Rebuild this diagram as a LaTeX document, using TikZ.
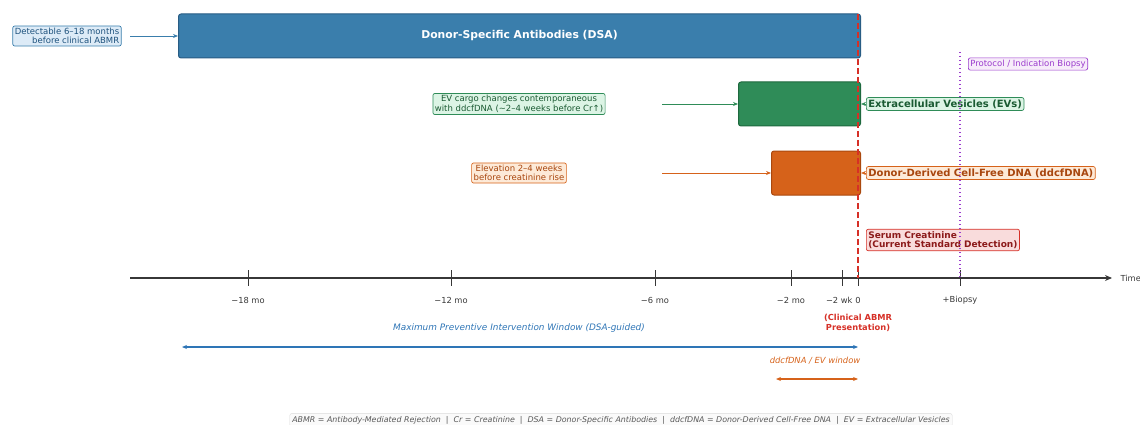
\documentclass[tikz,border=0pt]{standalone}
\usepackage{fontspec}
\setmainfont{DejaVu Sans}
\usetikzlibrary{arrows.meta, positioning, calc}
\definecolor{DsaBlue}{RGB}{58,126,172}
\definecolor{DsaEdge}{RGB}{40,92,132}
\definecolor{DsaText}{RGB}{30,82,125}
\definecolor{DsaFill}{RGB}{221,235,247}
\definecolor{EvGreen}{RGB}{47,140,88}
\definecolor{EvEdge}{RGB}{30,105,62}
\definecolor{EvText}{RGB}{26,90,50}
\definecolor{EvFill}{RGB}{220,244,229}
\definecolor{DdOrange}{RGB}{214,98,26}
\definecolor{DdEdge}{RGB}{170,72,14}
\definecolor{DdText}{RGB}{168,70,14}
\definecolor{DdFill}{RGB}{253,234,216}
\definecolor{CrRed}{RGB}{214,48,39}
\definecolor{CrText}{RGB}{140,26,26}
\definecolor{CrFill}{RGB}{249,220,220}
\definecolor{BxPurple}{RGB}{155,60,205}
\definecolor{BxFill}{RGB}{247,236,250}
\definecolor{AxisGray}{RGB}{55,55,55}
\definecolor{WinBlue}{RGB}{46,117,182}

\tikzset{
  bar/.style={draw, rounded corners=2.5pt, line width=1pt, anchor=west, minimum height=44pt},
  tag/.style={draw, rounded corners=2pt, line width=0.7pt, inner sep=2pt, font=\fontsize{8.5}{9.5}\selectfont},
  bigtag/.style={tag, font=\bfseries\fontsize{10}{10.5}\selectfont, anchor=west},
  pointer/.style={-{Stealth[length=5pt,width=4pt]}, line width=0.9pt},
  span/.style={{Stealth[length=5pt,width=4pt]}-{Stealth[length=5pt,width=4pt]}, line width=1.4pt},
  ticklbl/.style={font=\fontsize{8.3}{9}\selectfont, text=AxisGray},
}

\begin{document}
\begin{tikzpicture}[x=1pt, y=-1pt]
  \useasboundingbox (0,0) rectangle (1140,425);

  % Marker bars
  \node[bar, fill=DsaBlue, draw=DsaEdge, minimum width=682pt, text=white,
        font=\bfseries\fontsize{10.8}{11}\selectfont] (dsa) at (178,36) {Donor-Specific Antibodies (DSA)};
  \node[bar, fill=EvGreen, draw=EvEdge, minimum width=122pt] (ev) at (738,104) {};
  \node[bar, fill=DdOrange, draw=DdEdge, minimum width=89pt] (dd) at (771,173) {};

  % Left notes
  \node[tag, fill=DsaFill, draw=DsaBlue, text=DsaText, align=right] (dsanote) at (67,36)
    {Detectable 6–18 months\\before clinical ABMR};
  \node[tag, fill=EvFill, draw=EvGreen, text=EvText, align=center] (evnote) at (519,104)
    {EV cargo changes contemporaneous\\with ddcfDNA (\textasciitilde 2–4 weeks before Cr↑)};
  \node[tag, fill=DdFill, draw=DdOrange, text=DdText, align=center] (ddnote) at (519,173)
    {Elevation 2–4 weeks\\before creatinine rise};

  \coordinate (dsafrom) at (130,36);
  \coordinate (evfrom) at (662,104);
  \coordinate (ddfrom) at (662,173);
  \draw[pointer, DsaBlue] (dsafrom) -- (dsa.west);
  \draw[pointer, EvGreen] (evfrom) -- (ev.west);
  \draw[pointer, DdOrange] (ddfrom) -- (dd.west);

  % Right labels
  \node[bigtag, fill=EvFill, draw=EvGreen, text=EvText] (evtag) at (866,104) {Extracellular Vesicles (EVs)};
  \node[bigtag, fill=DdFill, draw=DdOrange, text=DdText] (ddtag) at (866,173) {Donor-Derived Cell-Free DNA (ddcfDNA)};
  \node[bigtag, fill=CrFill, draw=CrRed, text=CrText, align=left,
        font=\bfseries\fontsize{9}{9.5}\selectfont] (crtag) at (866,240)
    {Serum Creatinine\\(Current Standard Detection)};
  \draw[pointer, EvGreen, line width=0.6pt] (evtag.west) -- (ev.east);
  \draw[pointer, DdOrange, line width=0.6pt] (ddtag.west) -- (dd.east);

  % Time axis
  \coordinate (axL) at (130,278);
  \coordinate (axR) at (1112,278);
  \draw[AxisGray, line width=1.6pt, -{Stealth[length=7pt,width=6pt]}] (axL) -- (axR);
  \node[ticklbl, anchor=west] (timelbl) at (1117,278) {Time};
  \foreach \xpos in {248, 451, 655, 791, 842, 858, 960} {
    \draw[AxisGray, line width=0.8pt] (\xpos,270) -- (\xpos,286);
  }
  \node[ticklbl] (t18) at (248,300) {−18 mo};
  \node[ticklbl] (t12) at (451,300) {−12 mo};
  \node[ticklbl] (t6) at (655,300) {−6 mo};
  \node[ticklbl] (t2) at (791,300) {−2 mo};
  \node[ticklbl, anchor=east] (tw) at (856,300) {−2 wk};
  \node[ticklbl] (t0) at (858,300) {0};
  \node[ticklbl] (tb) at (960,300) {+Biopsy};

  % Clinical presentation and biopsy lines
  \coordinate (crTop) at (858,14);
  \coordinate (crBot) at (858,278);
  \draw[CrRed, line width=1.8pt, dash pattern=on 6pt off 3pt] (crTop) -- (crBot);
  \coordinate (bxTop) at (960,52);
  \coordinate (bxBot) at (960,278);
  \draw[BxPurple, line width=1.3pt, dash pattern=on 1.3pt off 2.7pt] (bxTop) -- (bxBot);
  \node[tag, fill=BxFill, draw=BxPurple, text=BxPurple, anchor=west] (bxtag) at (968,64) {Protocol / Indication Biopsy};
  \node[text=CrRed, align=center, font=\bfseries\fontsize{8.3}{9.3}\selectfont] (abmr) at (858,323)
    {(Clinical ABMR\\Presentation)};

  % Intervention windows
  \node[text=WinBlue, font=\itshape\fontsize{8.9}{10}\selectfont] (winlbl) at (519,328)
    {Maximum Preventive Intervention Window (DSA-guided)};
  \coordinate (winL) at (182,347);
  \coordinate (winR) at (858,347);
  \draw[span, WinBlue] (winL) -- (winR);
  \node[text=DdOrange, font=\itshape\fontsize{8.4}{9}\selectfont] (ddwinlbl) at (815,361) {ddcfDNA / EV window};
  \coordinate (ddwinL) at (776,379);
  \coordinate (ddwinR) at (858,379);
  \draw[span, DdOrange] (ddwinL) -- (ddwinR);

  % Abbreviations
  \node[draw=black!15, fill=black!2, rounded corners=2pt, inner sep=2.5pt, text=black!65,
        font=\itshape\fontsize{7.9}{8.5}\selectfont] (abbr) at (621,420)
    {ABMR = Antibody-Mediated Rejection \ | \ Cr = Creatinine \ | \ DSA = Donor-Specific Antibodies \ | \ ddcfDNA = Donor-Derived Cell-Free DNA \ | \ EV = Extracellular Vesicles};
\end{tikzpicture}
\end{document}
